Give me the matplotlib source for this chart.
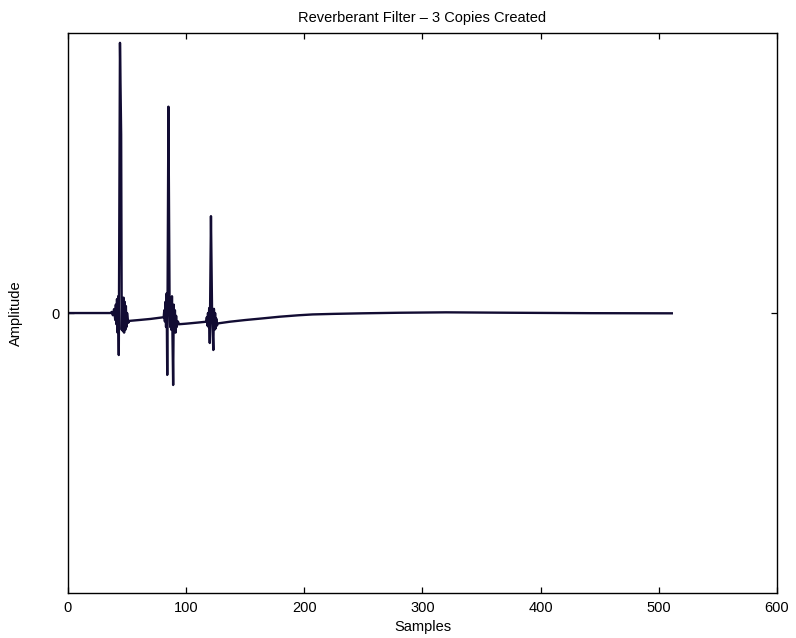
import matplotlib
matplotlib.use('Agg')
import matplotlib.pyplot as plt

# impulse response: (sample, amplitude) breakpoints
samples = [0, 36, 37, 38, 39, 40, 40.5, 41, 41.5, 42, 42.5, 43, 44, 45, 45.5, 46, 46.5, 47, 47.5, 48, 48.5, 49, 49.5, 50, 51, 52,
           60, 70, 81, 81.5, 82, 82.5, 83, 83.5, 84, 85, 86, 86.5, 87, 87.5, 88, 89, 89.5, 90, 90.5, 91, 91.5, 92, 93, 94,
           100, 110, 117, 117.5, 118, 118.5, 119, 119.5, 120, 121, 122, 123, 123.5, 124, 124.5, 125, 125.5, 126, 127,
           137, 150, 165, 179, 195, 207, 225, 249, 280, 320, 375, 443, 511]
amplitude = [0.0, 0.0, 0.004, -0.008, 0.014, -0.025, 0.03, -0.04, 0.05, -0.07, 0.06, -0.15, 0.965, 0.636, -0.06, 0.05, -0.065, 0.055, -0.07, 0.04, -0.06, 0.025, -0.05, 0.0, -0.035, -0.028,
             -0.025, -0.021, -0.015, 0.01, -0.03, 0.04, -0.05, 0.07, -0.221, 0.737, 0.02, -0.05, 0.05, -0.06, 0.06, -0.257, 0.03, -0.06, 0.01, -0.07, -0.01, -0.05, -0.03, -0.04,
             -0.038, -0.034, -0.031, -0.015, -0.045, 0.0, -0.05, 0.018, -0.107, 0.346, -0.02, -0.132, 0.015, -0.06, 0.0, -0.055, -0.02, -0.045, -0.037,
             -0.031, -0.025, -0.019, -0.0132, -0.008, -0.005, -0.003, -0.001, 0.001, 0.0025, 0.001, -0.0005, -0.001]

xticks = [0, 100, 200, 300, 400, 500, 600]

plt.rcParams['font.family'] = ['Liberation Sans', 'DejaVu Sans']
plt.rcParams['font.size'] = 10.5

fig = plt.figure(figsize=(7.96, 6.38), dpi=100)
ax = fig.add_axes([0.0854, 0.0705, 0.8907, 0.8777])

ax.plot(samples, amplitude, color='#120c33', linewidth=1.7)

ax.set_xlim(0, 600)
ax.set_ylim(-1, 1)
ax.set_xticks(xticks)
ax.set_yticks([0])
ax.tick_params(direction='in', top=True, right=True, length=4, width=0.9, pad=6)

for sp in ax.spines.values():
    sp.set_linewidth(1.0)
    sp.set_color('black')

ax.set_title('Reverberant Filter \u2013 3 Copies Created', fontsize=10.5, pad=8)
ax.set_xlabel('Samples', fontsize=10.5, labelpad=3)
ax.set_ylabel('Amplitude', fontsize=10.5)
ax.yaxis.set_label_coords(-0.064, 0.5)

fig.savefig('out.png', dpi=100)
